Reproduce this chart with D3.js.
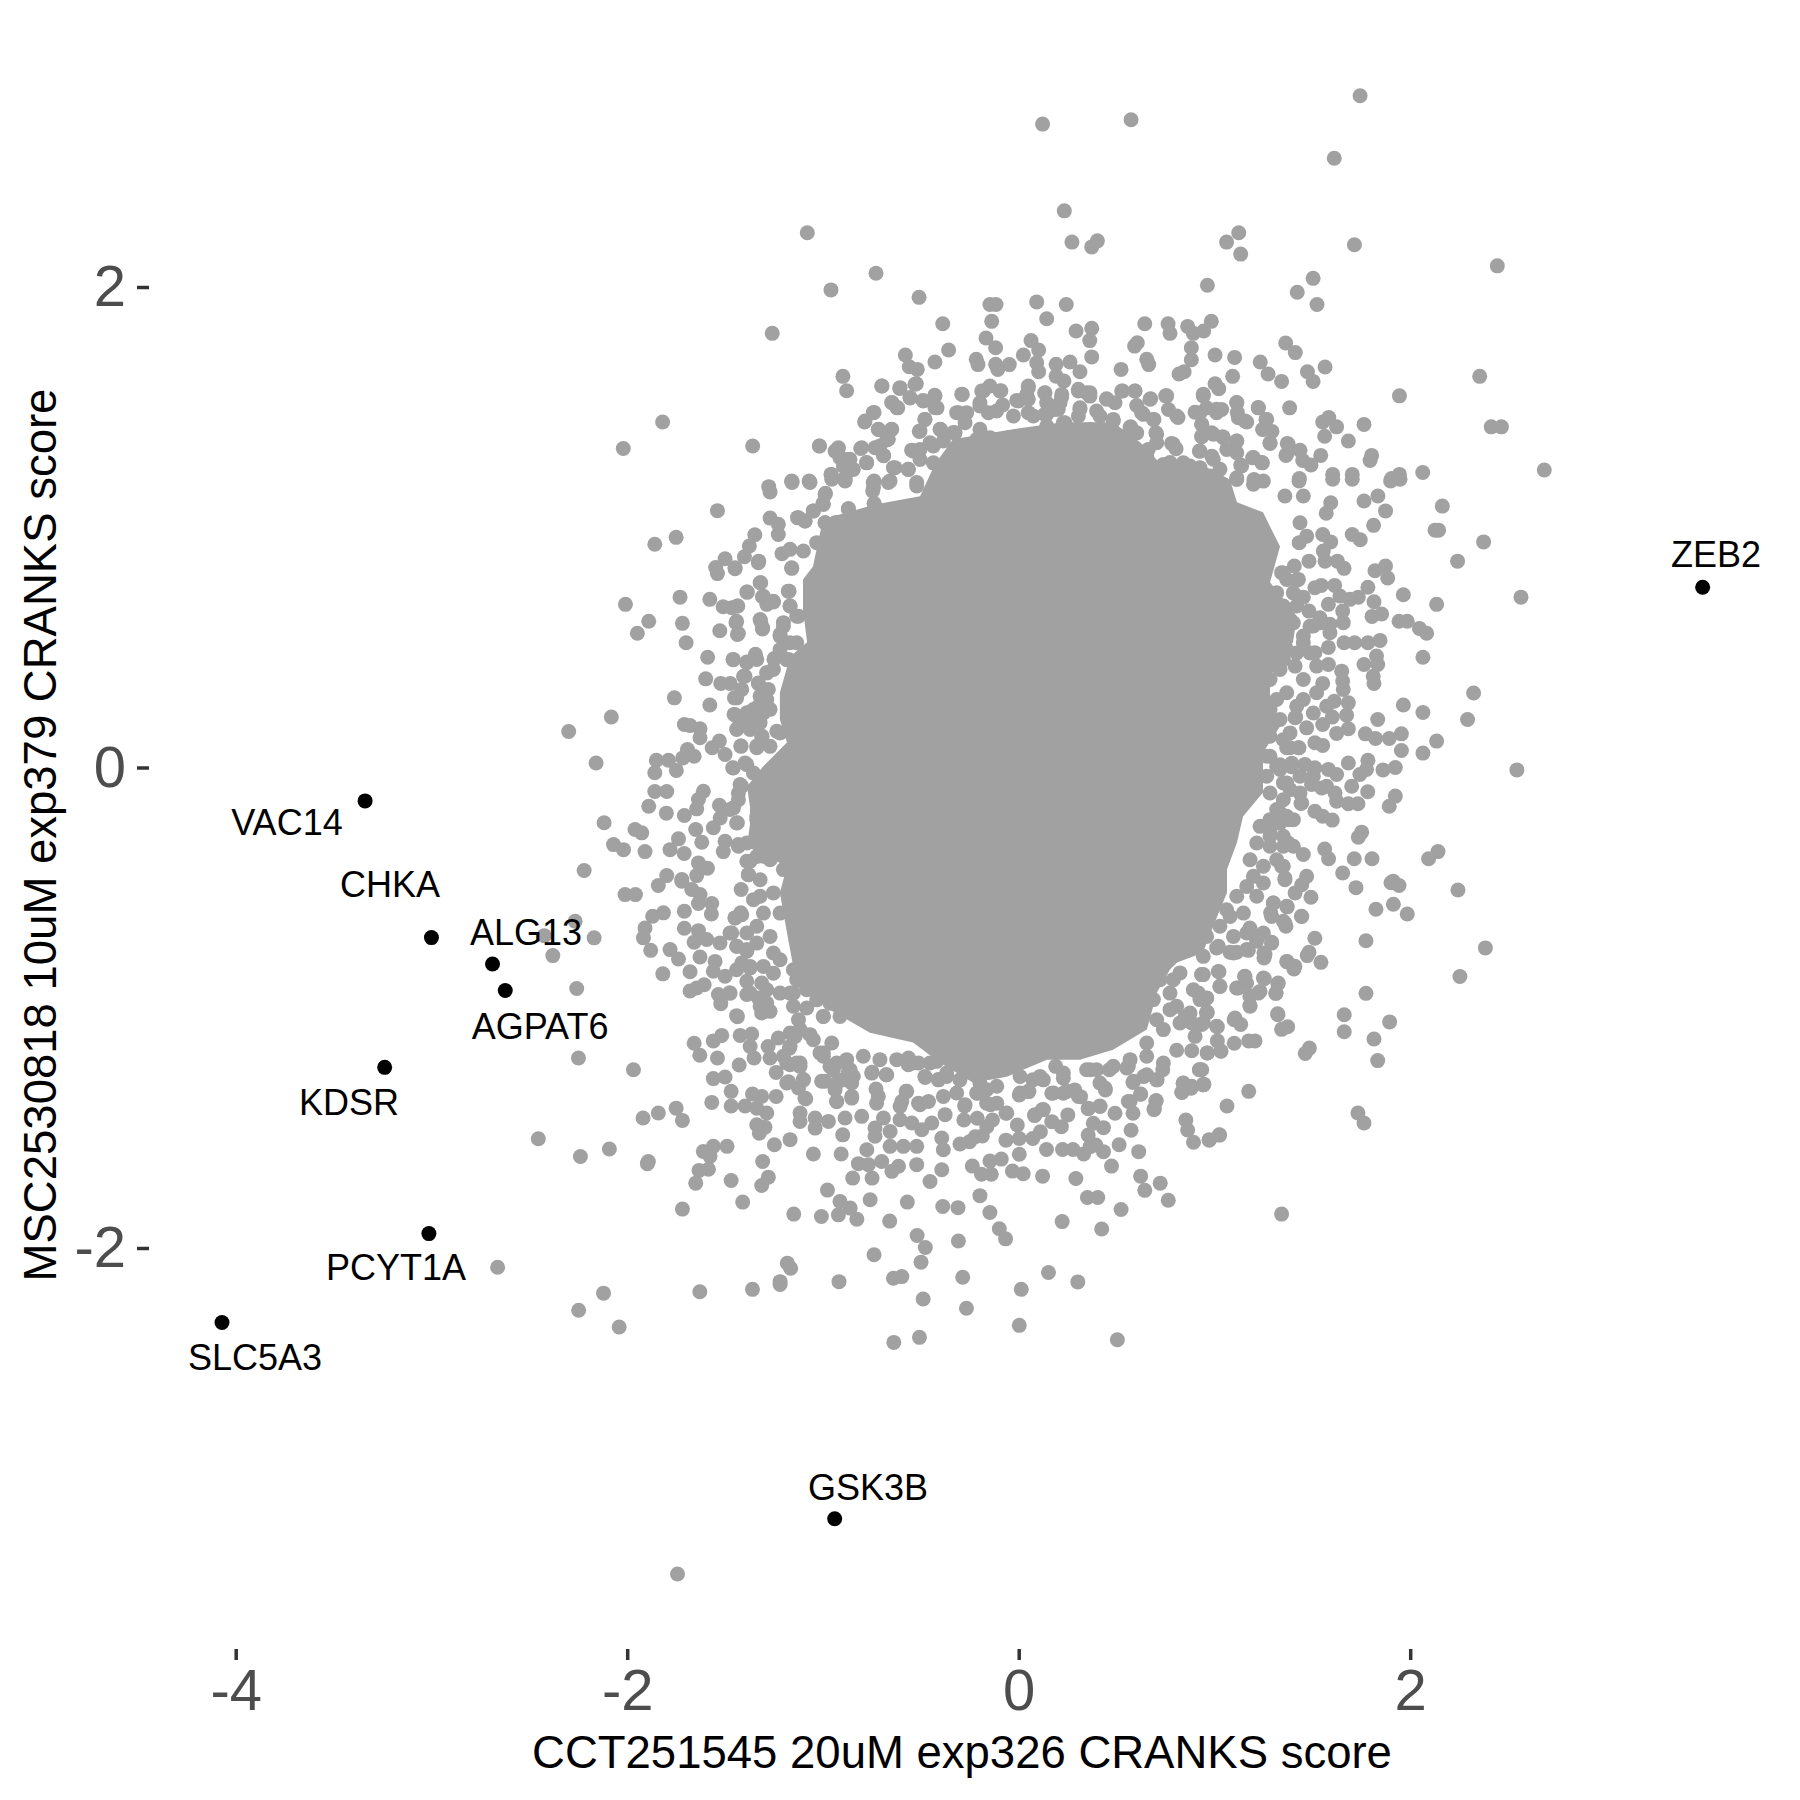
<!DOCTYPE html>
<html><head><meta charset="utf-8"><script src="https://cdn.jsdelivr.net/npm/d3@7"></script>
<style>html,body{margin:0;background:#fff}svg{display:block}text{font-family:"Liberation Sans",Arial,sans-serif}</style></head>
<body><script>
const xTicks=[-4,-2,0,2], yTicks=[-2,0,2];
const xTitle="CCT251545 20uM exp326 CRANKS score", yTitle="MSC2530818 10uM exp379 CRANKS score";
const geneNames=["ZEB2","VAC14","CHKA","ALG13","AGPAT6","KDSR","PCYT1A","SLC5A3","GSK3B"];
const geneX=[3.494,-3.339,-3.0,-2.688,-2.623,-3.239,-3.013,-4.07,-0.94];
const geneY=[0.75,-0.139,-0.708,-0.818,-0.928,-1.248,-1.94,-2.31,-3.127];
const labelX=[3.562,-3.738,-3.212,-2.517,-2.445,-3.421,-3.181,-3.901,-0.770];
const labelY=[0.887,-0.225,-0.483,-0.683,-1.075,-1.394,-2.079,-2.453,-2.995];
// outline of the dense centre, where the individual points merge into solid grey
const denseX=[-0.336,-0.029,0.226,0.482,0.620,0.737,0.911,1.079,1.115,1.248,1.335,1.284,1.422,1.401,1.284,1.284,1.335,1.248,1.248,1.146,1.115,1.064,1.064,0.993,0.941,0.809,0.773,0.706,0.655,0.482,0.313,0.145,-0.060,-0.233,-0.402,-0.540,-0.760,-0.964,-1.133,-1.184,-1.220,-1.184,-1.388,-1.373,-1.373,-1.388,-1.306,-1.184,-1.220,-1.220,-1.168,-1.081,-1.102,-1.102,-1.051,-1.0,-0.734,-0.504,-0.428];
const denseY=[1.366,1.408,1.437,1.437,1.354,1.254,1.270,1.199,1.104,1.062,0.920,0.771,0.629,0.521,0.379,0.283,0.171,0.062,-0.104,-0.204,-0.312,-0.425,-0.521,-0.662,-0.771,-0.812,-0.841,-0.937,-1.091,-1.175,-1.216,-1.216,-1.287,-1.312,-1.229,-1.145,-1.104,-1.008,-0.912,-0.687,-0.521,-0.412,-0.329,-0.237,-0.162,-0.079,0.004,0.104,0.200,0.312,0.462,0.521,0.658,0.783,0.837,1.033,1.095,1.129,1.262];
const upperPoints=[[0.122,2.678],[0.233,2.317],[0.272,2.187],[0.373,2.167],[0.402,2.192],[-1.08,2.226],[-0.729,2.057],[-0.959,1.988],[-0.509,1.957],[-1.259,1.807],[-0.388,1.847],[-0.147,1.927],[-0.116,1.927],[-0.138,1.857],[0.092,1.938],[0.243,1.927],[0.143,1.868],[0.373,1.828],[0.293,1.817],[0.363,1.777],[0.373,1.709],[0.063,1.777],[0.102,1.738],[0.024,1.717],[-0.167,1.788],[-0.118,1.747],[-0.358,1.738],[-0.579,1.717],[-0.428,1.688],[-0.217,1.699],[-0.208,1.677],[-0.118,1.678],[-0.107,1.657],[-0.048,1.677],[0.092,1.685],[0.102,1.647],[0.191,1.678],[0.262,1.688],[0.313,1.647],[-0.559,1.668],[-0.518,1.657],[-0.523,1.597],[-0.898,1.628],[-0.879,1.568],[-0.698,1.588],[-0.608,1.578],[-0.429,1.549],[-0.647,1.518],[-0.618,1.497],[-0.555,1.538],[-0.489,1.528],[-0.417,1.497],[-0.288,1.553],[-0.189,1.567],[-0.147,1.588],[-0.091,1.568],[0.049,1.588],[0.041,1.553],[-0.01,1.528],[0.133,1.559],[0.22,1.553],[0.191,1.629],[0.231,1.609],[0.305,1.567],[0.347,1.56],[0.364,1.546],[0.313,1.497],[0.211,1.518],[0.143,1.518],[0.185,1.49],[-0.082,1.509],[-0.198,1.518],[-0.308,1.477],[-0.266,1.477],[-0.155,1.477],[0.049,1.477],[0.133,1.47],[0.305,1.463],[0.398,1.484],[-0.739,1.478],[-0.787,1.438],[-0.479,1.449],[-0.508,1.399],[-0.399,1.407],[-0.649,1.407],[-0.717,1.407],[-1.819,1.438],[-2.02,1.328],[-1.359,1.338],[-1.018,1.338],[-0.923,1.328],[-0.938,1.317],[-0.807,1.328],[-0.675,1.363],[-0.734,1.331],[-0.69,1.298],[-0.777,1.268],[-0.879,1.282],[-0.913,1.289],[-0.853,1.241],[-0.957,1.22],[-1.16,1.192],[-1.07,1.192],[-0.887,1.206],[-0.739,1.192],[-0.64,1.248],[-0.564,1.241],[-0.547,1.321],[-0.504,1.324],[-0.436,1.338],[-0.385,1.359],[-0.325,1.393],[-0.274,1.435],[-0.215,1.365],[-0.147,1.365],[-0.3,1.324],[-0.053,1.373],[0.024,1.338],[0.143,1.421],[0.228,1.435],[0.279,1.338],[0.364,1.407],[-0.13,1.296],[0,1.268],[-0.232,1.254],[0.109,1.296],[0.364,1.296],[-0.436,1.268],[-0.334,1.241],[-0.504,1.282],[0.245,1.241],[-0.044,1.213],
[0.574,2.696],[1.744,2.796],[1.612,2.536],[1.124,2.226],[1.062,2.187],[1.134,2.137],[1.715,2.176],[2.445,2.088],[0.964,2.007],[1.504,2.036],[1.423,1.978],[1.524,1.927],[0.644,1.847],[0.763,1.847],[0.773,1.807],[0.863,1.836],[0.892,1.807],[0.945,1.817],[0.984,1.857],[0.606,1.768],[0.592,1.754],[0.882,1.747],[0.882,1.697],[1.003,1.717],[1.103,1.707],[1.364,1.767],[1.413,1.727],[1.234,1.688],[1.274,1.638],[1.343,1.607],[1.565,1.667],[1.475,1.647],[1.504,1.607],[1.093,1.628],[0.523,1.657],[0.654,1.699],[0.664,1.677],[0.819,1.638],[0.845,1.647],[1.003,1.597],[1.022,1.577],[2.355,1.628],[1.945,1.547],[0.943,1.547],[0.751,1.547],[0.531,1.567],[0.594,1.567],[0.674,1.535],[0.449,1.535],[0.492,1.518],[1.114,1.518],[1.224,1.497],[1.384,1.497],[0.765,1.49],[0.814,1.457],[0.691,1.449],[0.637,1.47],[0.603,1.507],[0.901,1.479],[0.96,1.497],[1.037,1.49],[1.011,1.477],[1.117,1.477],[1.122,1.456],[1.165,1.438],[1.263,1.449],[1.246,1.407],[1.294,1.399],[1.284,1.349],[1.584,1.457],[1.553,1.438],[1.624,1.418],[1.563,1.379],[1.764,1.428],[1.684,1.359],[2.414,1.418],[2.466,1.418],[1.372,1.349],[1.365,1.299],[1.437,1.32],[1.451,1.278],[1.493,1.259],[1.543,1.299],[1.803,1.299],[1.795,1.278],[1.434,1.203],[1.604,1.22],[1.704,1.22],[1.945,1.22],[1.905,1.203],[2.064,1.228],[2.685,1.238],[0.483,1.449],[0.572,1.418],[0.701,1.393],[0.781,1.349],[0.804,1.327],[0.935,1.428],[0.935,1.377],[0.986,1.393],[1.042,1.377],[1.114,1.359],[0.923,1.317],[1.195,1.289],[1.245,1.268],[1.134,1.259],[0.986,1.296],[1.063,1.324],[1.114,1.31],[0.449,1.393],[0.603,1.393],[0.705,1.352],[0.662,1.324],[0.449,1.296],[0.603,1.282],[0.841,1.268],[0.739,1.261],[0.671,1.241],[0.926,1.248],[1.028,1.241],[1.114,1.206],[1.202,1.199],[1.25,1.192],[0.534,1.227],[0.824,1.227],[0.977,1.213]];
const leftPoints=[[-1.277,1.169],[-1.27,1.147],[-1.158,1.186],[-1.066,1.186],[-0.955,1.2],[-0.887,1.193],[-0.742,1.165],[-0.666,1.186],[-0.521,1.172],[-0.987,1.141],[-1,1.1],[-1.049,1.068],[-1.13,1.04],[-1.091,1.026],[-0.87,1.077],[-0.739,1.1],[-0.64,1.068],[-0.564,1.075],[-1.539,1.069],[-1.27,1.038],[-1.228,1.012],[-1.228,0.97],[-1.75,0.958],[-1.859,0.929],[-1.348,0.969],[-1.376,0.922],[-1.401,0.877],[-1.5,0.869],[-1.328,0.859],[-1.449,0.827],[-1.548,0.832],[-1.539,0.807],[-1.209,0.89],[-1.168,0.908],[-1.1,0.901],[-1.159,0.829],[-1.032,0.936],[-0.989,1.019],[-0.93,1.019],[-1.318,0.769],[-1.386,0.73],[-1.173,0.734],[-1.73,0.709],[-1.578,0.7],[-2.009,0.679],[-1.309,0.711],[-1.287,0.679],[-1.253,0.689],[-1.51,0.669],[-1.466,0.665],[-1.435,0.672],[-1.168,0.672],[-1.444,0.603],[-1.89,0.609],[-1.718,0.6],[-1.948,0.559],[-1.699,0.519],[-1.527,0.569],[-1.432,0.558],[-1.318,0.609],[-1.309,0.577],[-1.202,0.603],[-1.219,0.554],[-1.125,0.63],[-1.134,0.519],[-1.589,0.459],[-1.459,0.45],[-1.345,0.471],[-1.338,0.45],[-1.389,0.439],[-1.25,0.45],[-1.176,0.45],[-1.599,0.369],[-1.522,0.35],[-1.474,0.35],[-1.398,0.38],[-1.287,0.394],[-1.33,0.35],[-1.279,0.325],[-1.415,0.325],[-1.452,0.29],[-1.759,0.29],[-1.578,0.26],[-2.081,0.21],[-2.299,0.15],[-1.454,0.221],[-1.389,0.228],[-1.33,0.255],[-1.27,0.242],[-1.355,0.186],[-1.435,0.165],[-1.372,0.165],[-1.708,0.179],[-1.679,0.175],[-1.628,0.161],[-1.628,0.124],[-1.236,0.151],[-1.311,0.13],[-1.529,0.11],[-1.566,0.082],[-1.418,0.089],[-1.338,0.089],[-1.692,0.075],[-1.5,0.054],[-1.658,0.047],[-1.716,0.04],[-2.159,0.019],[-1.851,0.03],[-1.789,0.03],[-1.859,-0.022],[-1.749,-0.012],[-1.461,-0.001],[-1.389,0.012],[-1.423,-0.071],[-1.611,-0.099],[-1.636,-0.133],[-1.645,-0.172],[-1.859,-0.1],[-1.798,-0.1],[-1.89,-0.161],[-1.8,-0.19],[-1.708,-0.2],[-1.529,-0.157],[-1.525,-0.21],[-1.56,-0.251],[-1.432,-0.106],[-1.457,-0.168],[-2.118,-0.23],[-1.96,-0.258],[-1.926,-0.272],[-1.65,-0.258],[-1.437,-0.23],[-1.338,-0.216],[-1.287,-0.23],[-1.738,-0.297],[-1.619,-0.311],[-2.07,-0.321],[-2.019,-0.342],[-1.909,-0.35],[-1.781,-0.342],[-1.709,-0.358],[-1.5,-0.307],[-1.509,-0.35],[-1.432,-0.328],[-1.372,-0.39],[-2.22,-0.429],[-1.636,-0.397],[-1.59,-0.419],[-1.798,-0.45],[-1.721,-0.466],[-1.645,-0.45],[-1.381,-0.446],[-1.304,-0.307],[-1.236,-0.279],[-1.304,-0.106],[-1.304,-0.369],[-1.202,-0.425]];
const rightPoints=[[1.432,1.193],[1.604,1.2],[1.704,1.2],[1.9,1.193],[1.948,1.2],[1.36,1.13],[1.454,1.13],[1.594,1.102],[1.571,1.058],[1.764,1.109],[1.835,1.13],[1.874,1.068],[2.164,1.088],[1.813,1.008],[2.127,0.988],[2.145,0.988],[2.375,0.939],[1.704,0.97],[1.745,0.948],[1.553,0.97],[1.594,0.939],[1.437,1.019],[1.471,0.963],[1.433,0.936],[1.556,0.901],[2.242,0.859],[1.483,0.859],[1.565,0.859],[1.628,0.859],[1.662,0.829],[1.408,0.839],[1.343,0.811],[1.42,0.78],[1.82,0.819],[1.874,0.839],[1.885,0.789],[1.513,0.748],[1.546,0.758],[1.614,0.758],[1.784,0.75],[1.965,0.719],[1.454,0.709],[1.735,0.709],[1.692,0.7],[1.641,0.714],[1.582,0.679],[1.815,0.69],[2.135,0.679],[2.566,0.709],[1.483,0.651],[1.655,0.651],[1.805,0.629],[1.854,0.639],[1.943,0.609],[1.985,0.609],[2.047,0.579],[2.084,0.559],[1.658,0.603],[1.539,0.623],[1.505,0.589],[1.59,0.596],[1.454,0.547],[1.386,0.603],[1.662,0.519],[1.716,0.519],[1.784,0.519],[1.846,0.529],[1.582,0.5],[1.828,0.464],[2.065,0.459],[1.764,0.429],[1.834,0.429],[1.811,0.38],[1.815,0.35],[1.582,0.429],[1.513,0.478],[1.65,0.401],[1.655,0.36],[1.553,0.35],[1.658,0.325],[2.324,0.31],[1.965,0.26],[2.065,0.229],[1.684,0.269],[1.612,0.276],[1.675,0.218],[1.834,0.2],[2.293,0.2],[1.602,0.21],[1.415,0.21],[1.553,0.179],[1.471,0.165],[1.684,0.161],[1.624,0.142],[1.771,0.14],[1.823,0.121],[1.893,0.121],[1.955,0.14],[2.135,0.11],[1.955,0.071],[2.065,0.06],[1.513,0.103],[1.553,0.092],[1.386,0.082],[1.432,0.082],[1.267,0.047],[2.545,-0.01],[1.924,0],[1.861,-0.01],[1.784,0.03],[1.684,0.019],[1.777,-0.008],[1.743,-0.029],[1.582,-0.008],[1.624,-0.029],[1.513,-0.001],[1.462,0.013],[1.394,0.003],[1.335,-0.008],[1.701,-0.078],[1.783,-0.101],[1.924,-0.119],[1.893,-0.161],[1.733,-0.151],[1.684,-0.151],[1.624,-0.14],[1.616,-0.106],[1.548,-0.085],[1.496,-0.071],[1.437,-0.106],[1.442,-0.15],[1.369,-0.064],[1.513,-0.182],[1.553,-0.203],[1.602,-0.219],[1.403,-0.217],[1.335,-0.189],[1.752,-0.269],[1.735,-0.29],[1.563,-0.339],[1.583,-0.38],[1.714,-0.38],[1.805,-0.38],[2.142,-0.35],[2.094,-0.38],[1.454,-0.362],[1.377,-0.314],[1.343,-0.411],[1.655,-0.439],[1.471,-0.453],[1.36,-0.46],[1.913,-0.473],
[1.723,-0.5],[1.902,-0.48],[1.943,-0.491],[2.244,-0.51],[1.493,-0.54],[1.825,-0.59],[1.914,-0.569],[1.985,-0.61],[1.444,-0.619],[1.372,-0.58],[1.301,-0.564],[1.287,-0.605],[1.352,-0.64],[1.365,-0.661],[1.513,-0.711],[1.774,-0.721],[2.384,-0.751],[1.292,-0.727],[1.219,-0.703],[1.181,-0.668],[1.215,-0.723],[1.253,-0.772],[1.253,-0.793],[1.173,-0.761],[1.113,-0.769],[1.079,-0.769],[1.011,-0.751],[1.483,-0.769],[1.474,-0.783],[1.544,-0.811],[1.372,-0.809],[1.411,-0.827],[1.406,-0.839],[2.254,-0.87],[1.774,-0.94],[1.023,-0.85],[0.943,-0.862],[1.154,-0.87],[1.255,-0.879],[1.324,-0.9],[1.313,-0.94],[1.164,-0.897],[1.028,-0.911],[1.113,-0.918],[1.233,-0.932],[1.181,-0.952],[1.181,-0.991],[0.96,-0.959],[0.96,-1.019],[1.324,-1.029],[1.663,-1.029],[1.663,-1.1],[1.895,-1.059],[1.101,-1.05],[1.134,-1.07],[1.015,-1.079],[0.935,-1.07],[1.343,-1.09],[1.374,-1.079],[1.815,-1.13],[1.015,-1.138],[1.101,-1.148],[1.175,-1.138],[1.207,-1.138],[1.033,-1.18],[0.963,-1.188],[1.485,-1.168],[1.464,-1.19],[1.834,-1.22],[0.935,-1.258],[0.946,-1.318],[1.175,-1.348],[1.064,-1.409],[1.733,-1.438],[1.764,-1.48],[1.025,-1.529],[0.974,-1.549],[1.343,-1.859]];
const lowerLeftPoints=[[-2.011,-0.529],[-1.958,-0.529],[-1.841,-0.491],[-1.721,-0.473],[-1.67,-0.508],[-1.628,-0.529],[-1.568,-0.566],[-1.636,-0.566],[-1.708,-0.598],[-1.57,-0.61],[-1.815,-0.605],[-1.87,-0.619],[-1.909,-0.668],[-1.917,-0.709],[-2.169,-0.709],[-2.266,-0.64],[-2.38,-0.783],[-1.88,-0.761],[-1.781,-0.758],[-1.738,-0.797],[-1.708,-0.669],[-1.636,-0.679],[-1.658,-0.727],[-1.594,-0.716],[-1.628,-0.789],[-1.818,-0.859],[-1.679,-0.85],[-1.551,-0.807],[-1.56,-0.848],[-1.5,-0.869],[-1.607,-0.904],[-1.645,-0.918],[-1.679,-0.93],[-2.258,-0.92],[-1.449,-0.626],[-1.42,-0.605],[-1.466,-0.689],[-1.526,-0.73],[-1.44,-0.744],[-1.389,-0.765],[-1.415,-0.814],[-1.372,-0.834],[-1.389,-0.89],[-1.534,-0.945],[-1.474,-0.939],[-1.522,-0.983],[-1.389,-0.945],[-1.33,-0.959],[-1.287,-0.98],[-1.313,-1.022],[-1.27,-1.015],[-1.437,-1.037],[-1.517,-1.115],[-1.56,-1.138],[-1.658,-1.148],[-1.629,-1.198],[-1.423,-1.115],[-1.364,-1.109],[-1.372,-1.161],[-1.352,-1.209],[-1.539,-1.209],[-1.428,-1.238],[-1.28,-1.161],[-1.27,-1.209],[-1.228,-1.126],[-1.171,-1.168],[-1.142,-1.119],[-1.239,-1.269],[-1.168,-1.237],[-1.117,-1.23],[-1.176,-1.308],[-1.1,-1.3],[-1.125,-1.334],[-1.088,-1.379],[-2.249,-1.209],[-1.968,-1.258],[-1.56,-1.295],[-1.5,-1.288],[-1.469,-1.348],[-1.568,-1.394],[-1.469,-1.409],[-1.398,-1.409],[-1.36,-1.359],[-1.313,-1.369],[-1.239,-1.369],[-1.338,-1.418],[-1.287,-1.438],[-1.338,-1.487],[-1.296,-1.497],[-1.325,-1.522],[-1.75,-1.418],[-1.841,-1.438],[-1.919,-1.459],[-1.718,-1.469],[-1.117,-1.438],[-1.117,-1.473],[-1.04,-1.459],[-1.04,-1.501],[-0.972,-1.473],[-0.887,-1.459],[-0.899,-1.529],[-1.168,-1.549],[-1.248,-1.57],[-1.49,-1.577],[-1.56,-1.577],[-1.611,-1.598],[-1.577,-1.619],[-2.091,-1.588],[-2.239,-1.619],[-1.892,-1.64],[-1.897,-1.649],[-1.308,-1.64],[-1.049,-1.609],[-0.907,-1.609],[-1.585,-1.672],[-1.633,-1.677],[-1.65,-1.73],[-1.469,-1.719],[-1.279,-1.705],[-1.313,-1.74],[-1.41,-1.809],[-1.718,-1.838],[-1.149,-1.859],[-0.977,-1.759],[-1.008,-1.869],[-0.913,-1.806],[-0.921,-1.862],[-0.861,-1.834],[-0.827,-1.88],[-0.759,-1.799],[-0.848,-1.709],[-0.749,-1.709],[-0.819,-1.649],[-0.768,-1.653],[-0.776,-1.591],[-0.734,-1.535],[-0.659,-1.888],[-0.569,-1.809],[-0.388,-1.827],[-0.519,-1.948],[-0.477,-1.998],[-0.499,-2.059],[-0.739,-2.028],[-1.182,-2.063],[-1.165,-2.084],[-1.219,-2.14],[-0.918,-2.14],[-0.64,-2.126],[-0.597,-2.119],[-0.521,-1.653],[-0.453,-1.723],[-0.393,-1.674],[-0.614,-1.66],[-0.648,-1.681],[-0.7,-1.64],[-0.657,-1.577],[-0.589,-1.577],[-0.521,-1.577],[-0.393,-1.542],[-0.385,-1.591],[-0.802,-1.452],[-0.734,-1.501],[-0.691,-1.459],[-0.657,-1.515],[-0.606,-1.466],[-0.597,-1.39],[-0.575,-1.348],[-0.546,-1.48],[-0.495,-1.508],[-0.444,-1.48],[-0.512,-1.397],[-0.461,-1.39],[-0.376,-1.445],[-0.478,-1.29],[-0.41,-1.3],[-0.717,-1.369],[-0.729,-1.338],[-0.749,-1.268],[-0.677,-1.279],[-0.989,-1.306],[-0.93,-1.313],[-0.93,-1.39],[-0.853,-1.369],[-0.853,-1.313],[-0.947,-1.258],[-0.861,-1.258],[-1.015,-1.188],[-0.955,-1.147],[-0.563,-1.209],[-0.512,-1.23],[-0.419,-1.223],[-0.368,-1.286],[-1.168,-0.939],[-1.134,-0.883],[-1.032,-0.911],[-0.989,-0.952],[-1.083,-1.001],[-0.998,-1.036],[-1.125,-1.05],[-1.066,-1.112]];
const lowerPoints=[[-0.31,-1.832],[-0.308,-1.971],[-0.286,-2.122],[-0.267,-2.251],[-0.198,-1.782],[-0.147,-1.852],[-0.099,-1.92],[-0.067,-1.962],[0.013,-2.172],[0.003,-2.322],[0.152,-2.102],[0.302,-2.141],[0.504,-2.382],[0.222,-1.89],[0.424,-1.921],[0.523,-1.84],[0.351,-1.79],[0.404,-1.79],[0.292,-1.711],[0.122,-1.701],[0.023,-1.691],[-0.032,-1.68],[-0.14,-1.693],[-0.19,-1.693],[-0.237,-1.659],[-0.147,-1.638],[-0.089,-1.63],[0.003,-1.61],[0.142,-1.59],[0.224,-1.59],[0.277,-1.59],[0.332,-1.609],[0.365,-1.578],[0.394,-1.571],[0.433,-1.599],[0.474,-1.659],[0.513,-1.57],[0.613,-1.599],[0.623,-1.701],[0.644,-1.76],[0.723,-1.73],[0.764,-1.801],[0.574,-1.51],[0.492,-1.439],[0.584,-1.439],[0.56,-1.39],[0.623,-1.36],[0.701,-1.39],[0.693,-1.421],[0.584,-1.311],[0.639,-1.286],[0.707,-1.3],[0.736,-1.258],[0.834,-1.353],[0.84,-1.314],[0.881,-1.335],[0.943,-1.321],[0.924,-1.258],[0.854,-1.467],[0.863,-1.509],[0.893,-1.56],[0.973,-1.551],[1.026,-1.53],[0.355,-1.42],[0.414,-1.409],[0.381,-1.481],[0.433,-1.499],[0.355,-1.53],[0.251,-1.446],[0.218,-1.495],[0.169,-1.474],[0.12,-1.425],[0.081,-1.449],[0.072,-1.544],[0.003,-1.544],[-0.065,-1.551],[-0.065,-1.439],[-0.007,-1.488],[0.111,-1.516],[-0.222,-1.537],[-0.186,-1.534],[-0.251,-1.558],[-0.3,-1.567],[-0.163,-1.495],[-0.28,-1.467],[-0.212,-1.46],[-0.134,-1.467],[-0.276,-1.409],[-0.212,-1.356],[-0.144,-1.404],[0.003,-1.363],[0.052,-1.349],[0.169,-1.356],[0.228,-1.356],[0.286,-1.342],[0.316,-1.37],[0.443,-1.342],[0.189,-1.244],[0.365,-1.258],[0.463,-1.258],[0.56,-1.244],[0.072,-1.3],[-1.629,-2.182],[-1.36,-2.172],[-1.219,-2.152],[-0.488,-2.212],[-0.638,-2.393],[-0.507,-2.372],[-1.743,-3.357],[-2.662,-2.08],[-2.121,-2.188],[-2.248,-2.259],[-2.041,-2.329],[-2.454,-1.545],[-2.424,-0.7]];
const topFringe=[[-0.291,1.554],[-0.181,1.567],[-0.096,1.567],[-0.002,1.526],[0.049,1.581],[0.049,1.533],[0.134,1.56],[0.143,1.47],[0.219,1.54],[0.202,1.491],[0.313,1.491],[0.305,1.574],[0.364,1.56],[0.449,1.533],[0.526,1.567],[0.594,1.567],[0.671,1.533],[0.628,1.477],[0.688,1.449],[0.756,1.547],[0.807,1.463],[0.483,1.442],[0.415,1.463],[0.569,1.415],[0.705,1.387],[0.79,1.345],[0.943,1.554],[0.926,1.477],[1.011,1.491],[0.935,1.429],[0.935,1.38],[0.994,1.387],[1.045,1.373],[1.114,1.359],[0.926,1.317],[1.114,1.519],[1.156,1.442],[1.224,1.498],[1.267,1.449],[1.25,1.408],[1.284,1.352],[1.377,1.345],[1.369,1.304],[1.199,1.29],[1.241,1.269],[1.139,1.255],[1.114,1.199],[1.199,1.179],[0.994,1.283],[-0.317,1.477],[-0.198,1.505],[-0.113,1.484],[-0.027,1.463],[0.075,1.463],[0.236,1.435],[-0.402,1.408],[-0.479,1.449],[-0.504,1.401],[-0.428,1.547],[-0.428,1.498],[-0.487,1.526],[-0.555,1.54],[-0.649,1.519],[-0.623,1.498],[-0.606,1.581],[-0.7,1.588],[-0.53,1.595],[-0.649,1.408],[-0.666,1.366],[-0.743,1.477],[-0.785,1.442],[-0.717,1.408],[-0.709,1.338],[-0.802,1.331],[-0.691,1.299],[-0.921,1.331],[-0.862,1.283],[-0.896,1.255],[-0.845,1.241],[-1.018,1.338],[-0.777,1.269],[-0.887,1.199],[-0.959,1.22],[-0.657,1.193],[-0.632,1.248],[-0.564,1.241],[-0.743,1.186],[-0.746,1.151],[-0.538,1.317],[-0.453,1.352],[-0.334,1.394],[-0.521,1.186],[-1.158,1.19],[-1.07,1.19],[-0.989,1.137],[-0.998,1.095],[-1.049,1.068],[-1.126,1.04],[-1.092,1.026],[-0.87,1.077],[-0.737,1.095],[-0.64,1.068],[-0.564,1.081],[-0.811,1.033],[-0.734,1.019],[-0.989,1.019],[-0.938,1.019],[-0.896,1.019],[-0.198,1.408],[-0.147,1.373],[-0.3,1.338],[-0.198,1.31],[-0.062,1.366],[-0.027,1.338],[0.075,1.352],[0.143,1.394],[0.279,1.352],[0.458,1.38],[0.569,1.352],[0.654,1.297],[0.773,1.269],[0.875,1.255]];
const leftFringe=[[-1.449,0.831],[-1.33,0.852],[-1.16,0.831],[-1.321,0.769],[-1.389,0.73],[-1.177,0.734],[-1.304,0.713],[-1.253,0.692],[-1.437,0.672],[-1.168,0.672],[-1.134,0.63],[-1.441,0.609],[-1.321,0.616],[-1.308,0.581],[-1.437,0.554],[-1.202,0.588],[-1.219,0.547],[-1.458,0.449],[-1.347,0.463],[-1.389,0.436],[-1.248,0.454],[-1.185,0.449],[-1.287,0.394],[-1.406,0.38],[-1.33,0.352],[-1.441,0.29],[-1.321,0.297],[-1.253,0.408],[-1.449,0.22],[-1.441,0.158],[-1.372,0.158],[-1.406,0.2],[-1.304,0.227],[-1.313,0.13],[-1.338,0.082],[-1.42,0.089],[-1.458,-0.002],[-1.398,0.019],[-1.355,-0.023],[-1.415,-0.078],[-1.432,-0.134],[-1.432,-0.321],[-1.441,-0.231],[-1.475,-0.175],[-1.338,-0.203],[-1.287,-0.231],[-1.381,-0.446],[-1.389,-0.39],[-1.321,-0.467],[-1.418,-0.508],[-1.449,-0.626],[-1.415,-0.613],[-1.355,-0.55],[-1.475,-0.689],[-1.441,-0.744],[-1.389,-0.758],[-1.372,-0.828],[-1.304,-0.828],[-1.441,-0.842],[-1.478,-0.939],[-1.441,-1.033],[-1.372,-0.939],[-1.313,-0.897],[-1.321,-0.994],[-1.253,-0.856],[-1.219,-0.939],[-1.151,-0.994],[-1.287,-0.925],[-1.032,-0.967],[-0.998,-1.036],[-1.168,0.519],[-1.219,0.491],[-1.287,0.283],[-1.355,0.241],[-1.321,0.186],[-1.219,0.144],[-1.27,0.088],[-1.338,-0.661],[-1.27,-0.703],[-1.338,-0.731],[-1.253,-0.772],[-1.389,-0.689],[-1.304,-0.606],[-1.253,-0.522],[-1.321,-0.536],[-1.27,-0.384],[-1.338,-0.37],[-1.389,-0.314],[-1.321,-0.328],[-1.253,-0.356],[-1.219,-0.606],[-1.219,-0.8],[-1.151,-0.842],[-1.083,-0.925],[-1.151,-0.939],[-1.015,-0.911],[-0.964,-0.981],[-0.913,-1.036]];
const rightFringe=[[1.429,0.783],[1.352,0.81],[1.412,0.422],[1.352,0.449],[1.412,0.207],[1.386,0.144],[1.429,0.082],[1.369,0.082],[1.395,0.018],[1.335,0.011],[1.386,-0.092],[1.446,-0.148],[1.403,-0.328],[1.378,-0.217],[1.352,-0.286],[1.318,-0.175],[1.284,-0.259],[1.446,-0.488],[1.352,-0.411],[1.36,-0.467],[1.369,-0.578],[1.412,-0.522],[1.301,-0.564],[1.292,-0.62],[1.446,-0.62],[1.36,-0.647],[1.369,-0.807],[1.406,-0.835],[1.292,-0.731],[1.258,-0.779],[1.182,-0.675],[1.216,-0.71],[1.165,-0.758],[1.097,-0.772],[1.02,-0.849],[0.935,-0.862],[1.028,-0.911],[0.918,-0.939],[0.96,-0.96],[1.156,-0.869],[1.122,-0.918],[1.182,-0.994],[1.25,-0.876],[1.326,-0.897],[1.315,-0.939],[1.224,-0.939],[0.96,-1.022],[1.105,-1.043],[1.323,-1.025],[1.233,-0.245],[1.284,-0.217],[1.335,-0.231],[1.369,-0.203],[1.284,-0.286],[1.216,-0.314],[1.284,-0.328],[1.352,-0.328],[1.182,-0.384],[1.25,-0.411],[1.318,-0.384],[1.199,-0.453],[1.25,-0.481],[1.165,-0.495],[1.114,-0.536],[1.216,-0.536],[1.148,-0.606],[1.08,-0.62],[1.028,-0.661],[0.96,-0.703],[0.892,-0.744],[0.943,-0.786],[0.824,-0.772],[1.02,-0.744],[1.097,-0.703],[1.165,-0.689],[1.25,-0.689],[1.062,-0.592],[1.335,0.408],[1.284,0.366],[1.42,0.477],[1.488,0.477],[1.522,0.422],[1.454,0.366],[1.522,0.311],[1.454,0.283],[1.369,0.311],[1.318,0.283],[1.284,0.241],[1.335,0.2],[1.42,0.255],[1.505,0.227],[1.573,0.255],[1.284,0.13],[1.352,0.116],[1.284,0.047],[1.318,0.005],[1.267,-0.036],[1.352,-0.064],[1.284,-0.106],[1.352,-0.134],[1.437,-0.036],[1.505,-0.036],[1.573,-0.078],[1.369,0.491],[1.454,0.519],[1.488,0.588],[1.539,0.602],[1.59,0.561],[1.403,0.727],[1.369,0.783],[1.318,0.727],[1.352,0.672],[1.42,0.672],[1.335,0.616],[1.403,0.602]];
const bottomFringe=[[-1.185,-1.313],[-1.1,-1.299],[-1.092,-1.376],[-1.007,-1.306],[-0.938,-1.341],[-0.93,-1.39],[-0.853,-1.376],[-0.896,-1.3],[-0.87,-1.265],[-0.998,-1.202],[-1.117,-1.244],[-1.185,-1.23],[-0.726,-1.397],[-0.606,-1.411],[-0.572,-1.348],[-0.504,-1.404],[-0.385,-1.369],[-0.317,-1.355],[-0.41,-1.299],[-0.479,-1.286],[-0.674,-1.279],[-0.751,-1.272],[-0.564,-1.237],[-0.274,-1.404],[-0.215,-1.355],[-0.164,-1.397],[-0.061,-1.438],[0.083,-1.445],[0.126,-1.424],[0.177,-1.355],[0.245,-1.348],[0.305,-1.369],[0.007,-1.355],[0.049,-1.348],[0.126,-1.3],[0.228,-1.293],[0.441,-1.334],[0.356,-1.418],[0.416,-1.411],[0.569,-1.39],[0.623,-1.359],[0.702,-1.386],[0.691,-1.424],[0.586,-1.306],[0.654,-1.279],[0.705,-1.3],[0.552,-1.251],[0.739,-1.23],[0.807,-1.177],[0.884,-1.179],[0.964,-1.188],[1.033,-1.181],[0.923,-1.258],[0.841,-1.313],[0.833,-1.352],[0.943,-1.32],[0.884,-1.327],[0.901,-1.119],[0.884,-1.063],[0.943,-1.063],[0.926,-0.966],[0.892,-0.925],[0.935,-0.862],[0.875,-1.022],[0.807,-0.994],[0.79,-0.883],[0.739,-1.091],[0.654,-1.147],[1.011,-1.077],[0.964,-1.019],[0.654,-1.202],[0.569,-1.216],[0.483,-1.244],[0.398,-1.258],[0.688,-0.966],[0.773,-0.939],[0.773,-1.008],[0.705,-1.05],[0.824,-1.063],[0.824,-0.855],[0.85,-1.036],[0.722,-0.883],[0.654,-0.952],[-1.049,-1.133],[-0.998,-1.188],[-0.93,-1.23],[-0.879,-1.216],[-0.845,-1.286],[-0.964,-1.244],[-1.168,-1.161],[-1.134,-1.23],[-1.202,-1.202],[-1.168,-1.105],[-1.117,-1.091],[-0.794,-1.202],[-0.709,-1.216],[-0.623,-1.216],[-0.538,-1.23],[-0.453,-1.23],[-0.368,-1.272],[-0.3,-1.3],[-0.198,-1.313],[-0.112,-1.327],[-0.112,-1.397],[-0.164,-1.341],[0.007,-1.286],[0.109,-1.286],[0.228,-1.272],[0.347,-1.258],[0.415,-1.313]];

const W=1800,H=1800;
const svg=d3.select("body").append("svg").attr("width",W).attr("height",H);
const x=d3.scaleLinear().domain([-4,2]).range([235.7,1410.2]);
const y=d3.scaleLinear().domain([-2,2]).range([1248,287]);
const grey="#a1a1a1", R=7.5;
const allGrey=[...upperPoints,...leftPoints,...rightPoints,...lowerLeftPoints,...lowerPoints,...topFringe,...leftFringe,...rightFringe,...bottomFringe];
svg.append("path").datum(denseX.map((d,i)=>[d,denseY[i]])).attr("fill",grey)
  .attr("d",d3.line().x(d=>x(d[0])).y(d=>y(d[1])).curve(d3.curveLinearClosed));
svg.append("g").selectAll("circle").data(allGrey).join("circle")
  .attr("cx",d=>x(d[0])).attr("cy",d=>y(d[1])).attr("r",R).attr("fill",grey);
svg.append("g").selectAll("circle").data(geneNames).join("circle")
  .attr("cx",(d,i)=>x(geneX[i])).attr("cy",(d,i)=>y(geneY[i])).attr("r",R).attr("fill","#000");
svg.append("g").selectAll("text").data(geneNames).join("text")
  .attr("x",(d,i)=>x(labelX[i])).attr("y",(d,i)=>y(labelY[i])).attr("dy","0.36em")
  .attr("text-anchor","middle").attr("font-size",36).attr("fill","#000").text(d=>d);
function style(g){
  g.select(".domain").remove();
  g.selectAll(".tick line").attr("stroke","#333").attr("stroke-width",3.5);
  g.selectAll(".tick text").attr("fill","#4d4d4d").attr("font-size",58).attr("font-family",'"Liberation Sans",Arial,sans-serif');
}
svg.append("g").attr("transform","translate(0,1649)")
  .call(d3.axisBottom(x).tickValues(xTicks).tickSize(11).tickPadding(9).tickFormat(d3.format("d"))).call(style);
svg.append("g").attr("transform","translate(149,0)")
  .call(d3.axisLeft(y).tickValues(yTicks).tickSize(12).tickPadding(11).tickFormat(d3.format("d"))).call(style);
svg.selectAll(".tick text").text(function(){return this.textContent.replace("\u2212","-");});
svg.append("text").attr("x",962).attr("y",1752).attr("dy","0.36em").attr("text-anchor","middle").attr("font-size",45.5).attr("fill","#000").text(xTitle);
svg.append("text").attr("transform","translate(40,835) rotate(-90)").attr("dy","0.36em").attr("text-anchor","middle").attr("font-size",45.5).attr("fill","#000").text(yTitle);
</script></body></html>
